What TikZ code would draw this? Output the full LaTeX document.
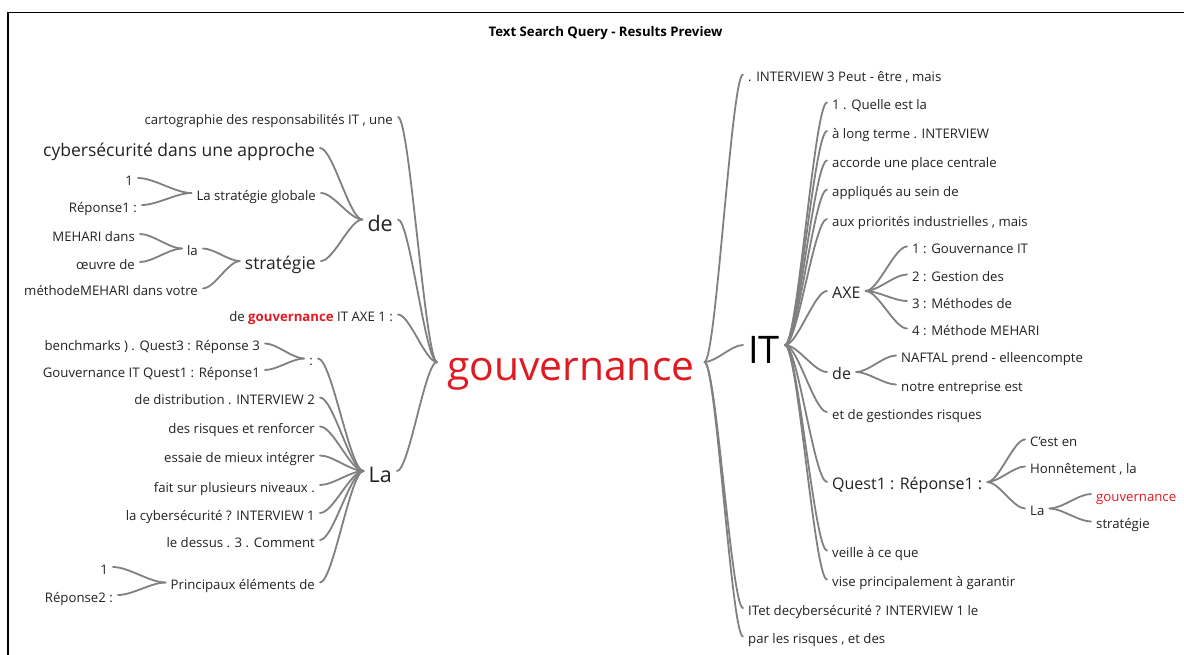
\documentclass[tikz,border=0pt]{standalone}
\usepackage{fontspec}
\setmainfont{Open Sans}
\usetikzlibrary{calc}
\definecolor{ink}{HTML}{222222}
\definecolor{gred}{RGB}{224,26,34}
\definecolor{wirec}{RGB}{128,128,128}

% font sizes (1pt = 1px in this picture)
\newcommand\fsmall{\fontsize{13.2}{16}\selectfont}
\newcommand\fmid{\fontsize{16}{19}\selectfont}
\newcommand\fmed{\fontsize{17.5}{20}\selectfont}
\newcommand\fbig{\fontsize{21.5}{25}\selectfont}
\newcommand\fIT{\fontsize{38}{44}\selectfont}
\newcommand\fgouv{\fontsize{40.8}{46}\selectfont}

% curved branch from a parent anchor to a child anchor
\newcommand\wire[2]{\draw[wire] let \p1=(#1), \p2=(#2) in
  (\p1) .. controls ({\x1+0.3*(\x2-\x1)},\y1) and ({\x2-0.3*(\x2-\x1)},\y2) .. (\p2);}

\tikzset{
  wire/.style={draw=wirec, line width=1.8pt, line cap=round},
  word/.style={inner ysep=0pt, inner xsep=5pt, text depth=0pt, text=ink},
  sm/.style={word, font=\fsmall, text height=14pt},
  md/.style={word, font=\fmed, text height=16pt},
  mid/.style={word, font=\fmid, text height=15pt},
  big/.style={word, font=\fbig, text height=23pt},
  L/.style={anchor=east},
  R/.style={anchor=west},
}

\begin{document}
\begin{tikzpicture}[x=1pt,y=-1pt]
\useasboundingbox (0,0) rectangle (1184,654);
\fill[white] (0,0) rectangle (1184,654);
\draw[line width=1.5pt, black] (8,660) -- (8,12.5) -- (1190,12.5);

\node[font=\fontsize{13.2}{16}\selectfont\bfseries, text=black] (title) at (605.5,33) {Text Search Query - Results Preview};

% root
\node[word, anchor=west, inner xsep=10pt, font=\fgouv, text height=36pt, text=gred] (gouv) at (437,362) {gouvernance};

% ---------- left branches ----------
\node[sm,L]  (cart) at (398,117)   {cartographie des responsabilités IT , une};
\node[big,L] (deL)  at (398,219.5) {de};
\node[sm,L]  (axe1) at (398,314.5) {de \textbf{\textcolor{gred}{gouvernance}} IT AXE 1 :};
\node[big,L] (LaL)  at (397,471)   {La};

\node[md,L] (cyber) at (320,148) {cybersécurité dans une approche};
\node[sm,L] (sglob) at (321,193) {La stratégie globale};
\node[md,L] (strat) at (321,261) {stratégie};
\node[sm,L] (one1)  at (138,178) {1};
\node[sm,L] (rep1)  at (142,205) {Réponse1 :};
\node[sm,L] (la)    at (203,248.5) {la};
\node[sm,L] (meh)   at (140,234) {MEHARI dans};
\node[sm,L] (oeuv)  at (140,262) {œuvre de};
\node[sm,L] (meth)  at (203,288.5) {méthodeMEHARI dans votre};

\node[sm,L] (colon)  at (318,358.5) {:};
\node[sm,L] (bench)  at (265,343.5) {benchmarks ) . Quest3 : Réponse 3};
\node[sm,L] (gquest) at (265,370)   {Gouvernance IT Quest1 : Réponse1};
\node[sm,L] (dist)   at (320,397.5) {de distribution . INTERVIEW 2};
\node[sm,L] (risq)   at (320,426.5) {des risques et renforcer};
\node[sm,L] (ess)    at (320,455.5) {essaie de mieux intégrer};
\node[sm,L] (fait)   at (320,485)   {fait sur plusieurs niveaux .};
\node[sm,L] (lacyb)  at (320,513)   {la cybersécurité ? INTERVIEW 1};
\node[sm,L] (dessus) at (320,540)   {le dessus . 3 . Comment};
\node[sm,L] (princ)  at (320,582.5) {Principaux éléments de};
\node[sm,L] (one2)   at (113,567)   {1};
\node[sm,L] (rep2)   at (118,595)   {Réponse2 :};

\wire{gouv.west}{cart.east}
\wire{gouv.west}{deL.east}
\wire{gouv.west}{axe1.east}
\wire{gouv.west}{LaL.east}
\wire{deL.west}{cyber.east}
\wire{deL.west}{sglob.east}
\wire{deL.west}{strat.east}
\wire{sglob.west}{one1.east}
\wire{sglob.west}{rep1.east}
\wire{strat.west}{la.east}
\wire{strat.west}{meth.east}
\wire{la.west}{meh.east}
\wire{la.west}{oeuv.east}
\foreach \w in {colon,dist,risq,ess,fait,lacyb,dessus,princ} {\wire{LaL.west}{\w.east}}
\wire{colon.west}{bench.east}
\wire{colon.west}{gquest.east}
\wire{princ.west}{one2.east}
\wire{princ.west}{rep2.east}

% ---------- right branches ----------
\node[sm,R] (int3) at (743,74.5) {. INTERVIEW 3 Peut - être , mais};
\node[word, R, font=\fIT, text height=36pt, text=black] (IT) at (743,345) {IT};
\node[sm,R] (itet)   at (743,608)   {ITet decybersécurité ? INTERVIEW 1 le};
\node[sm,R] (parles) at (743,636.5) {par les risques , et des};

\node[sm,R]  (q1)    at (827,102.5) {1 . Quelle est la};
\node[sm,R]  (lt)    at (827,131)   {à long terme . INTERVIEW};
\node[sm,R]  (acc)   at (827,160.5) {accorde une place centrale};
\node[sm,R]  (app)   at (827,189.5) {appliqués au sein de};
\node[sm,R]  (aux)   at (827,219)   {aux priorités industrielles , mais};
\node[mid,R] (AXE)   at (827,291)   {AXE};
\node[mid,R] (deR)   at (827,372)   {de};
\node[sm,R]  (etde)  at (827,412)   {et de gestiondes risques};
\node[mid,R] (quest) at (827,482)   {Quest1 : Réponse1 :};
\node[sm,R]  (veil)  at (827,550.5) {veille à ce que};
\node[sm,R]  (vise)  at (827,579.5) {vise principalement à garantir};

\node[sm,R] (a1) at (907,246.5) {1 : Gouvernance IT};
\node[sm,R] (a2) at (907,274.5) {2 : Gestion des};
\node[sm,R] (a3) at (907,301)   {3 : Méthodes de};
\node[sm,R] (a4) at (907,328.5) {4 : Méthode MEHARI};

\node[sm,R] (naft)  at (896,355.5) {NAFTAL prend - elleencompte};
\node[sm,R] (notre) at (896,384.5) {notre entreprise est};

\node[sm,R] (cest) at (1025,439.5) {C'est en};
\node[sm,R] (honn) at (1025,466.5) {Honnêtement , la};
\node[sm,R] (LaR)  at (1025,508.5) {La};
\node[sm,R,text=gred] (gouvR)  at (1091,494)   {gouvernance};
\node[sm,R]           (stratR) at (1091,521.5) {stratégie};

\foreach \w in {int3,IT,itet,parles} {\wire{gouv.east}{\w.west}}
\foreach \w in {q1,lt,acc,app,aux,AXE,deR,etde,quest,veil,vise} {\wire{IT.east}{\w.west}}
\foreach \w in {a1,a2,a3,a4} {\wire{AXE.east}{\w.west}}
\wire{deR.east}{naft.west}
\wire{deR.east}{notre.west}
\foreach \w in {cest,honn,LaR} {\wire{quest.east}{\w.west}}
\wire{LaR.east}{gouvR.west}
\wire{LaR.east}{stratR.west}
\end{tikzpicture}
\end{document}
